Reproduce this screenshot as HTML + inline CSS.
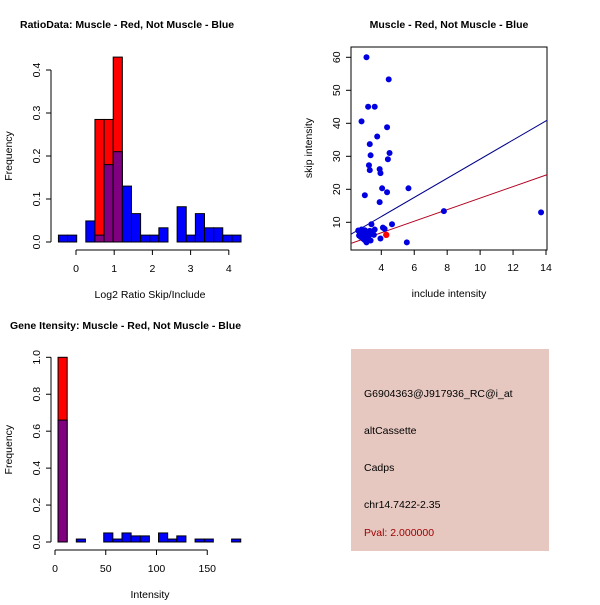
<!DOCTYPE html>
<html><head><meta charset="utf-8"><style>
body{margin:0;background:#fff}
svg text{font-family:"Liberation Sans",sans-serif;font-size:10.5px}
</style></head><body>
<svg width="600" height="600" viewBox="0 0 600 600">
<rect width="600" height="600" fill="#fff"/>
<g id="h1"></g>
<g id="sc"></g>
<g id="h2"></g>
<g>
<rect x="351" y="349" width="198" height="202" fill="#e6c8c0"/>
<text x="364" y="397">G6904363@J917936_RC@i_at</text>
<text x="364" y="434">altCassette</text>
<text x="364" y="471">Cadps</text>
<text x="364" y="508">chr14.7422-2.35</text>
<text x="364" y="536" fill="#a00000">Pval: 2.000000</text>
</g>
</svg>
<script>
// ---- data: ratio histogram ----
const h1Start=-0.46, h1Width=0.239;
const h1Blue=[0.016,0.016,0,0.049,0.016,0.18,0.21,0.13,0.066,0.016,0.016,0.033,0,0.082,0.016,0.066,0.033,0.033,0.016,0.016];
const h1Red=[0,0,0,0,0.285,0.285,0.43,0,0,0,0,0,0,0,0,0,0,0,0,0];
const h1XTicks=[0,1,2,3,4];
const h1YTicks=[0.0,0.1,0.2,0.3,0.4];
// ---- data: gene intensity histogram ----
const h2Start=3, h2Width=9;
const h2Blue=[0.66,0,0.016,0,0,0.049,0.016,0.049,0.033,0.033,0,0.049,0.016,0.033,0,0.016,0.016,0,0,0.016];
const h2Red=[1.0,0,0,0,0,0,0,0,0,0,0,0,0,0,0,0,0,0,0,0];
const h2XTicks=[0,50,100,150];
const h2YTicks=[0.0,0.2,0.4,0.6,0.8,1.0];
// ---- data: scatter ----
const scBlueX=[3.1,4.45,3.2,3.6,2.8,4.35,3.75,3.3,3.35,4.5,3.25,4.4,3.3,3.9,3.95,4.05,5.65,4.35,3.0,3.9,7.8,13.7,3.4,4.65,4.1,4.2,3.6,3.95,5.55,3.1,3.35,2.6,2.7,2.8,2.9,3.0,3.1,3.2,3.3,2.65,2.75,2.85,2.95,3.05,3.15,3.25,3.45,3.55,2.7,2.9,3.0,3.2,3.4,2.8,3.1];
const scBlueY=[60,53.3,45,45,40.6,38.8,36,33.7,30.3,31,27.3,29.1,25.8,26.1,24.9,20.3,20.3,19.1,18.2,16.1,13.4,13,9.4,9.4,8.4,8,7.8,5.1,3.9,3.9,4.5,7.5,6.5,7.2,6.8,7.6,6.2,7.0,7.4,6.0,5.6,6.4,5.2,5.8,6.6,6.0,6.8,6.2,7.0,5.0,4.6,5.4,7.2,7.8,7.0];
const scRedX=[4.3];
const scRedY=[6.2];
const scBlueFit=[0.13,2.9];
const scRedFit=[-0.18,1.75];
const scXTicks=[4,6,8,10,12,14];
const scYTicks=[10,20,30,40,50,60];

const NS="http://www.w3.org/2000/svg";
function mk(parent,tag,attrs,name){const e=document.createElementNS(NS,tag);for(const k in attrs)e.setAttribute(k,attrs[k]);


parent.appendChild(e);return e;}
function txt(parent,x,y,s,name,opt){const t=mk(parent,'text',Object.assign({x:x,y:y,'text-anchor':'middle'},opt||{}),name);t.textContent=s;return t;}

function hist(g,cfg){
  const X=v=>cfg.x0+(v-cfg.xa)*cfg.xs, Y=v=>cfg.y0-v*cfg.ys;
  for(let i=0;i<cfg.blue.length;i++){
    const l=X(cfg.start+i*cfg.w), r=X(cfg.start+(i+1)*cfg.w), b=cfg.blue[i], rd=cfg.red[i];
    if(rd>0){mk(g,'rect',{x:l,y:Y(rd),width:r-l,height:Y(0)-Y(rd),fill:'#ff0000',stroke:'#000','stroke-width':1},'red-bar');
      if(b>0)mk(g,'rect',{x:l,y:Y(Math.min(b,rd)),width:r-l,height:Y(0)-Y(Math.min(b,rd)),fill:'#800080',stroke:'#000','stroke-width':1},'overlap-bar');}
    else if(b>0)mk(g,'rect',{x:l,y:Y(b),width:r-l,height:Y(0)-Y(b),fill:'#0000ff',stroke:'#000','stroke-width':1},'blue-bar');
  }
  const xt=cfg.xt;
  mk(g,'line',{x1:X(xt[0]),x2:X(xt[xt.length-1]),y1:cfg.y0+8,y2:cfg.y0+8,stroke:'#000'},'x-axis');
  xt.forEach(v=>{mk(g,'line',{x1:X(v),x2:X(v),y1:cfg.y0+8,y2:cfg.y0+13,stroke:'#000'},'x-tick');txt(g,X(v),cfg.y0+30,String(v),'x-tick-label',{'font-size':'12px'});});
  const yt=cfg.yt;
  mk(g,'line',{x1:cfg.ax,x2:cfg.ax,y1:Y(yt[0]),y2:Y(yt[yt.length-1]),stroke:'#000'},'y-axis');
  yt.forEach(v=>{mk(g,'line',{x1:cfg.ax-5,x2:cfg.ax,y1:Y(v),y2:Y(v),stroke:'#000'},'y-tick');
    txt(g,cfg.ax-11,Y(v),v.toFixed(1),'y-tick-label',{'font-size':'12px',transform:`rotate(-90 ${cfg.ax-11} ${Y(v)})`});});
  txt(g,150,cfg.y0+56,cfg.xl,'x-axis-title');
  txt(g,12,(Y(yt[0])+Y(yt[yt.length-1]))/2,'Frequency','y-axis-title',{transform:`rotate(-90 12 ${(Y(yt[0])+Y(yt[yt.length-1]))/2})`});
  txt(g,cfg.tx,cfg.ty,cfg.title,'chart-title',{'text-anchor':'start','font-weight':'bold','font-size':'12.5px'});
}
hist(document.getElementById('h1'),{blue:h1Blue,red:h1Red,start:h1Start,w:h1Width,xa:0,x0:76,xs:38.2,y0:242,ys:430,xt:h1XTicks,yt:h1YTicks,ax:51,xl:'Log2 Ratio Skip/Include',title:'RatioData: Muscle - Red, Not Muscle - Blue',tx:20,ty:28});
hist(document.getElementById('h2'),{blue:h2Blue,red:h2Red,start:h2Start,w:h2Width,xa:0,x0:55,xs:1.015,y0:542,ys:184.7,xt:h2XTicks,yt:h2YTicks,ax:51,xl:'Intensity',title:'Gene Itensity: Muscle - Red, Not Muscle - Blue',tx:10,ty:329});

// scatter
(function(){
  const g=document.getElementById('sc');
  const X=v=>381.3+(v-4)*16.47, Y=v=>255.3-v*3.3;
  const L=351,R=547,T=47,B=250;
  mk(g,'rect',{x:L,y:T,width:R-L,height:B-T,fill:'none',stroke:'#000'},'plot-frame');
  const clip=mk(g,'clipPath',{id:'scclip'},'clip');mk(clip,'rect',{x:L,y:T,width:R-L,height:B-T},'clip-rect');
  const inv=p=>2+(p-348.4)/16.47;
  [[scBlueFit,'#00008b','blue-fit-line'],[scRedFit,'#b00020','red-fit-line']].forEach(([f,c,n])=>{
    const a=inv(L),b=inv(R);mk(g,'line',{x1:X(a),y1:Y(f[0]+f[1]*a),x2:X(b),y2:Y(f[0]+f[1]*b),stroke:c,'clip-path':'url(#scclip)'},n);});
  scBlueX.forEach((x,i)=>mk(g,'circle',{cx:X(x),cy:Y(scBlueY[i]),r:3,fill:'#0000e0'},'blue-point'));
  scRedX.forEach((x,i)=>mk(g,'circle',{cx:X(x),cy:Y(scRedY[i]),r:3.2,fill:'#ff0000'},'red-point'));
  scXTicks.forEach(v=>{mk(g,'line',{x1:X(v),x2:X(v),y1:B,y2:B+5,stroke:'#000'},'x-tick');txt(g,X(v),B+21,String(v),'x-tick-label',{'font-size':'12px'});});
  scYTicks.forEach(v=>{mk(g,'line',{x1:L-5,x2:L,y1:Y(v),y2:Y(v),stroke:'#000'},'y-tick');txt(g,L-11,Y(v),String(v),'y-tick-label',{'font-size':'12px',transform:`rotate(-90 ${L-11} ${Y(v)})`});});
  txt(g,449,297,'include intensity','x-axis-title');
  txt(g,312,148,'skip intensity','y-axis-title',{transform:'rotate(-90 312 148)'});
  txt(g,449,28,'Muscle - Red, Not Muscle - Blue','chart-title',{'font-weight':'bold','font-size':'12.5px'});
})();
</script>
</body></html>
